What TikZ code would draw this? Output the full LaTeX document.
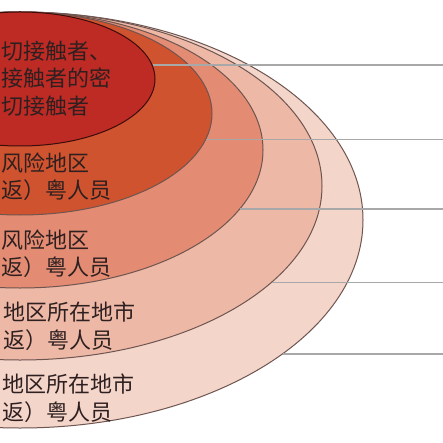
\documentclass[tikz,border=0pt]{standalone}
\usepackage{fontspec}
\newfontfamily\cjk{Noto Sans CJK SC}
\usetikzlibrary{shapes.geometric}

\definecolor{ringA}{HTML}{BE2A24}
\definecolor{ringB}{HTML}{D0532F}
\definecolor{ringC}{HTML}{E38C73}
\definecolor{ringD}{HTML}{EEB8A6}
\definecolor{ringE}{HTML}{F4D5CA}
\definecolor{rimgray}{HTML}{6E5550}
\definecolor{leadgray}{HTML}{A8A8A8}
\definecolor{inkgray}{HTML}{2E2020}

\begin{document}
\begin{tikzpicture}
        [
        x=1pt, y=-1pt,
        ring/.style={ellipse, draw=rimgray, line width=1pt, inner sep=0pt},
        tag/.style={font=\cjk\fontsize{22}{27.5}\selectfont, text=inkgray, align=left, anchor=west, inner sep=0pt},
        leader/.style={draw=leadgray, line width=1.4pt}
        ]

        \useasboundingbox (0,0) rectangle (443,443);
        \clip (0,0) rectangle (443,443);
        \coordinate (edge) at (443,0);

        \node[ring, fill=ringE, minimum width=686pt, minimum height=416pt] (e5) at (20,220) {};
        \node[ring, fill=ringD, minimum width=604pt, minimum height=348pt] (e4) at (20,186) {};
        \node[ring, fill=ringC, minimum width=486pt, minimum height=276pt] (e3) at (20,150) {};
        \node[ring, fill=ringB, minimum width=384pt, minimum height=203pt] (e2) at (20,113.5) {};
        \node[ring, fill=ringA, draw=black!70!ringA, minimum width=270pt, minimum height=134pt] (e1) at (20,79) {};

        \draw[leader] (e1.6) -- (e1.6 -| edge);
        \draw[leader] (e2.-8) -- (e2.-8 -| edge);
        \draw[leader] (e3.-15) -- (e3.-15 -| edge);
        \draw[leader] (e4.-21) -- (e4.-21 -| edge);
        \draw[leader] (e5.-27) -- (e5.-27 -| edge);

        \node[tag] (t1) at (1,78.5) {切接触者、\\接触者的密\\切接触者};
        \node[tag] (t2) at (1,176.5) {风险地区\\返）粤人员};
        \node[tag] (t3) at (1,253.5) {风险地区\\返）粤人员};
        \node[tag] (t4) at (3,326) {地区所在地市\\返）粤人员};
        \node[tag] (t5) at (2,398) {地区所在地市\\返）粤人员};

    \end{tikzpicture}
\end{document}
